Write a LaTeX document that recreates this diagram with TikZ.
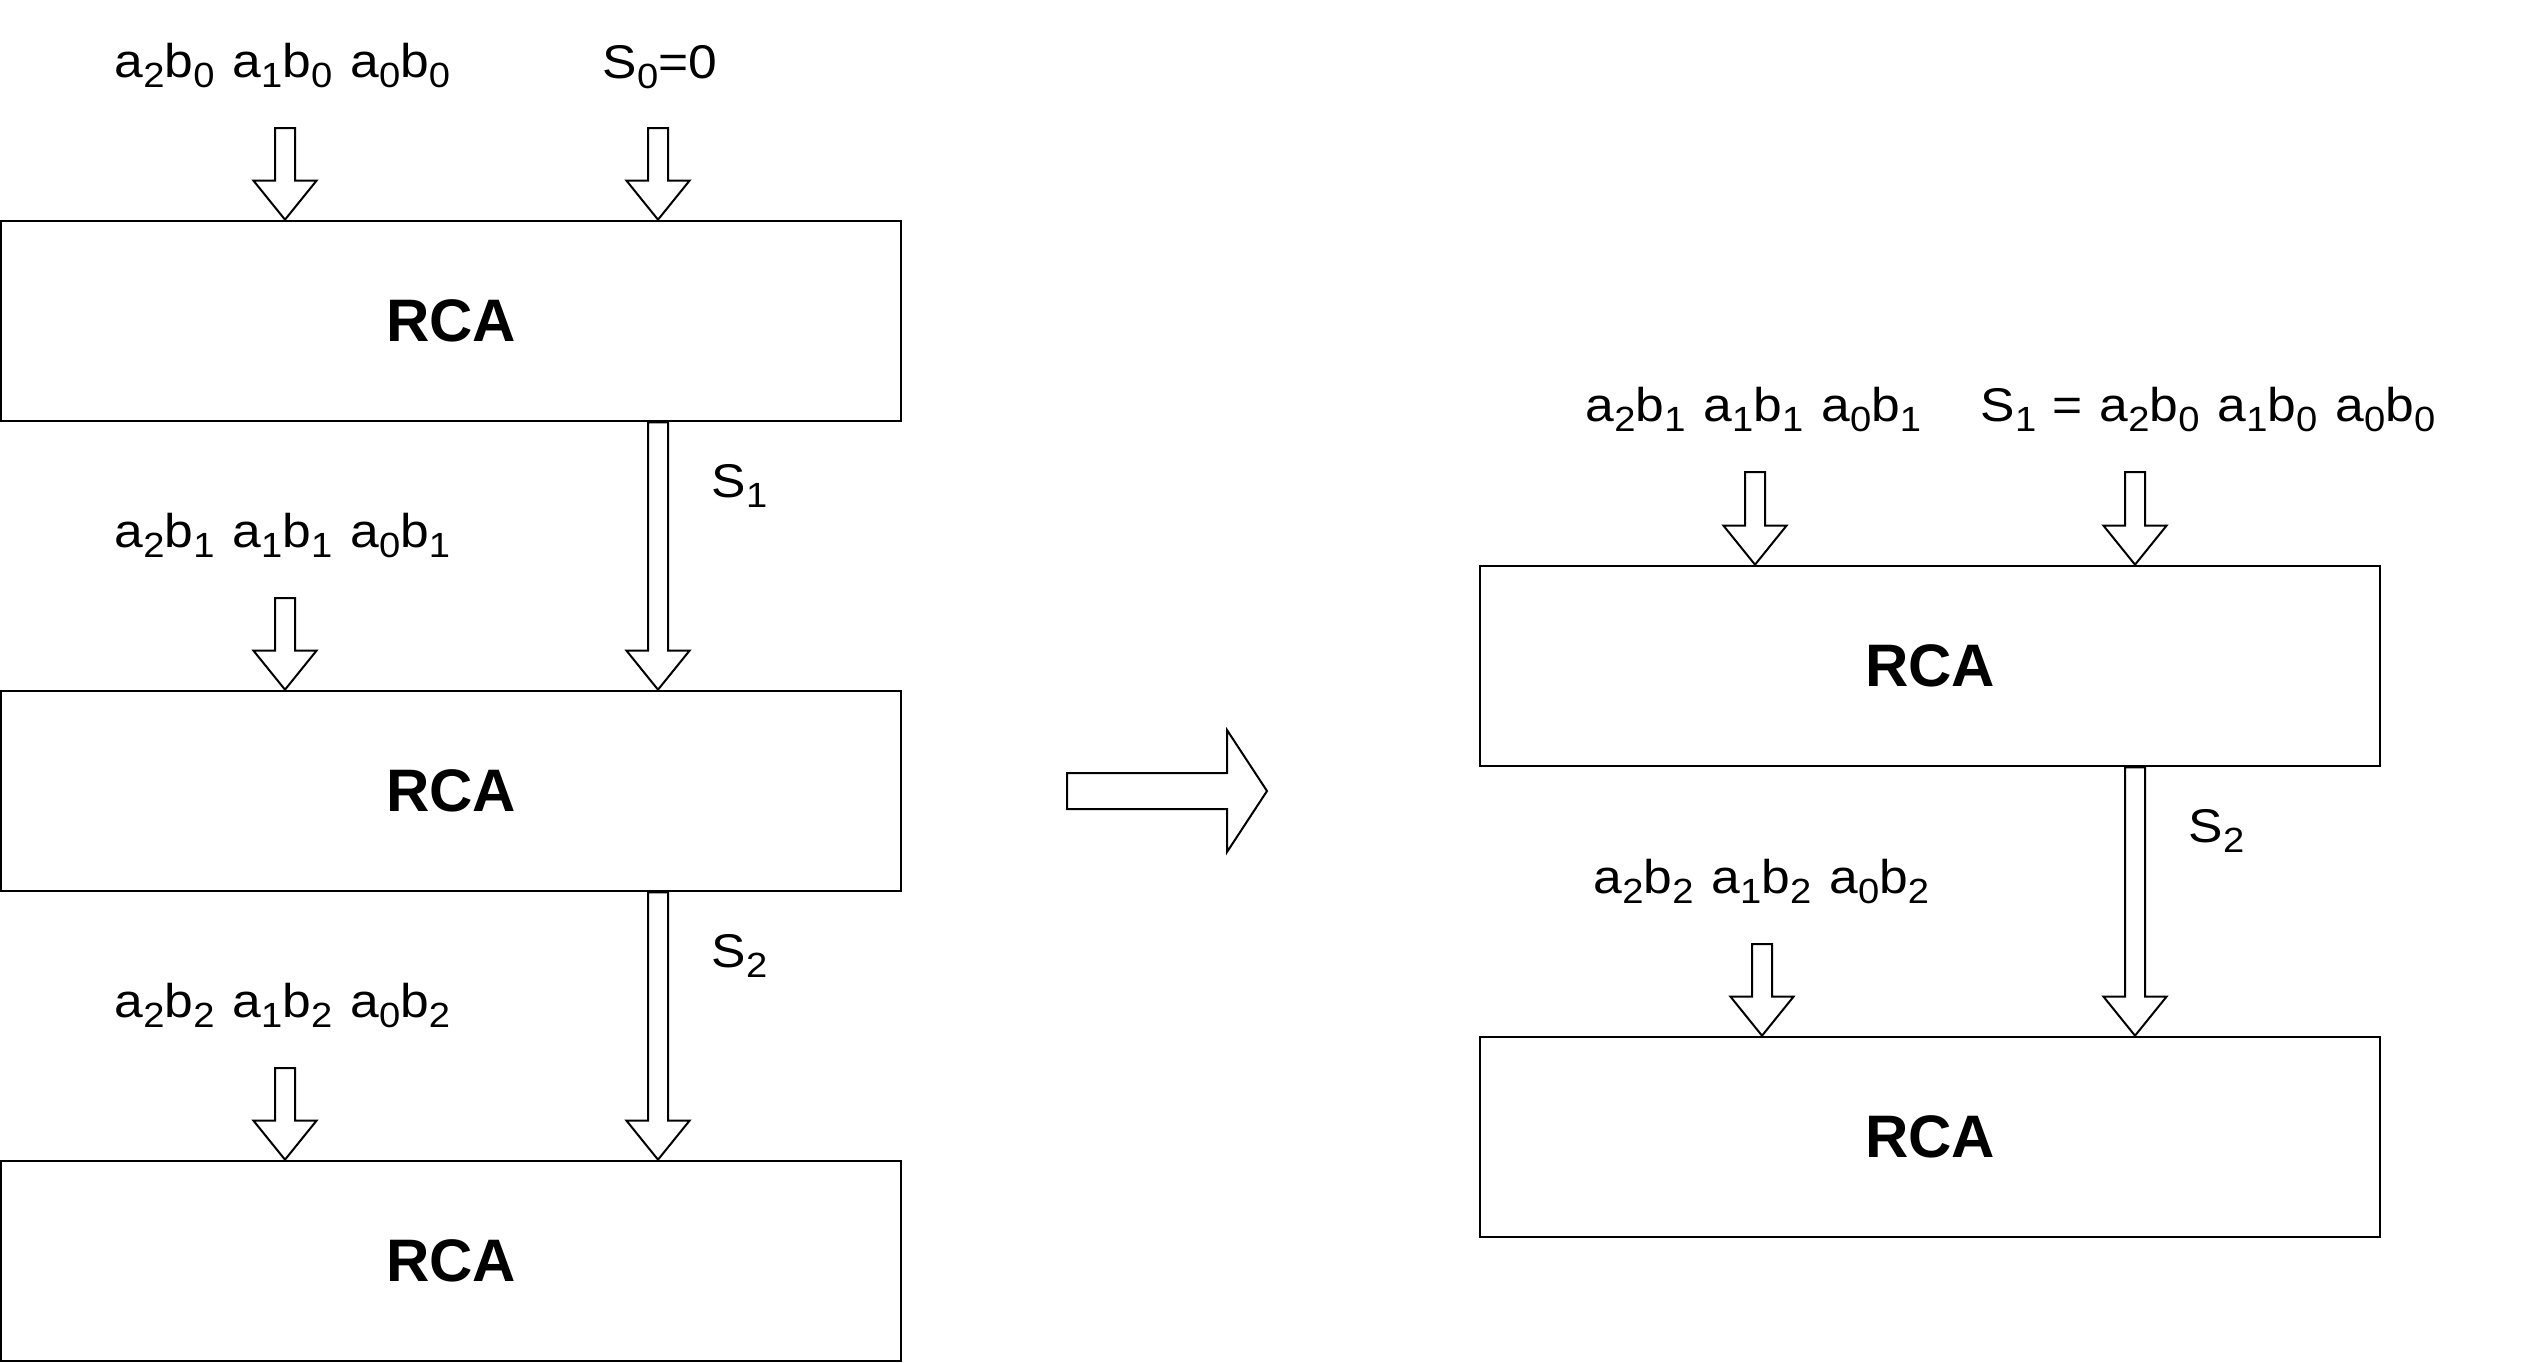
\documentclass[tikz,border=0pt]{standalone}
\usepackage{fontspec}
\setmainfont{Liberation Sans}
\newfontfamily\lblfont[FakeStretch=1.09]{Liberation Sans}
\usetikzlibrary{calc}
\newcommand\sbs[1]{\raisebox{-3pt}{\fontsize{10.5pt}{12pt}\selectfont #1}}
\newcommand\grp[2]{a\sbs{#1}b\sbs{#2}}
\newcommand\ggap{\hspace{5.4pt}}
% block arrow pointing down: #1 = start (top of shaft), #2 = tip
\newcommand\blockdown[2]{%
  \draw[blk] let \p1=(#1), \p2=(#2) in
    (\x1-3pt,\y1) -- (\x1+3pt,\y1) -- (\x1+3pt,\y2+11.7pt) -- (\x1+9.45pt,\y2+11.7pt)
    -- (\x1,\y2) -- (\x1-9.45pt,\y2+11.7pt) -- (\x1-3pt,\y2+11.7pt) -- cycle;}
\begin{document}
\begin{tikzpicture}[x=0.3pt,y=-0.3pt,
  lbl/.style={inner sep=0pt, anchor=base west, font=\lblfont\fontsize{14.2pt}{16pt}\selectfont},
  rca/.style={draw, line width=0.8pt, minimum width=270pt, minimum height=60pt,
    inner sep=0pt, font=\fontsize{18pt}{22pt}\selectfont\bfseries},
  blk/.style={draw, line width=0.6pt, fill=white, line join=miter}]
\useasboundingbox (0,0) rectangle (2522,1362);

% ---------- left column ----------
\node[rca] (L1) at (451,321) {RCA};
\node[rca] (L2) at (451,791) {RCA};
\node[rca] (L3) at (451,1261) {RCA};

\node[lbl] (T1) at (114,77) {\grp20\ggap\grp10\ggap\grp00};
\node[lbl] (S0) at (602,78) {S\sbs{0}=0};
\node[lbl] (T2) at (114,547) {\grp21\ggap\grp11\ggap\grp01};
\node[lbl] (S1) at (711,497) {S\sbs{1}};
\node[lbl] (T3) at (114,1017) {\grp22\ggap\grp12\ggap\grp02};
\node[lbl] (S2) at (711,967) {S\sbs{2}};

\coordinate (a1) at (285,128);
\coordinate (b1) at (658,128);
\coordinate (a2) at (285,598);
\coordinate (a3) at (285,1068);
\coordinate (s1top) at (L1.south -| b1);
\coordinate (s2top) at (L2.south -| b1);

\blockdown{a1}{a1 |- L1.north}
\blockdown{b1}{b1 |- L1.north}
\blockdown{a2}{a2 |- L2.north}
\blockdown{s1top}{b1 |- L2.north}
\blockdown{a3}{a3 |- L3.north}
\blockdown{s2top}{b1 |- L3.north}

% ---------- transition arrow ----------
\draw[blk] (1067,773) -- (1227,773) -- (1227,730) -- (1267,791) -- (1227,852)
  -- (1227,809) -- (1067,809) -- cycle;

% ---------- right column ----------
\node[rca] (R1) at (1930,666) {RCA};
\node[rca] (R2) at (1930,1137) {RCA};

\node[lbl] (RT1) at (1585,421) {\grp21\ggap\grp11\ggap\grp01};
\node[lbl] (RS1) at (1980,421) {S\sbs{1}\hspace{5pt}=\hspace{5pt}\grp20\ggap\grp10\ggap\grp00};
\node[lbl] (RS2) at (2188,842) {S\sbs{2}};
\node[lbl] (RT2) at (1593,893) {\grp22\ggap\grp12\ggap\grp02};

\coordinate (c1) at (1755,472);
\coordinate (d1) at (2135,472);
\coordinate (c2) at (1762,944);
\coordinate (rs2top) at (R1.south -| d1);

\blockdown{c1}{c1 |- R1.north}
\blockdown{d1}{d1 |- R1.north}
\blockdown{c2}{c2 |- R2.north}
\blockdown{rs2top}{d1 |- R2.north}
\end{tikzpicture}
\end{document}
